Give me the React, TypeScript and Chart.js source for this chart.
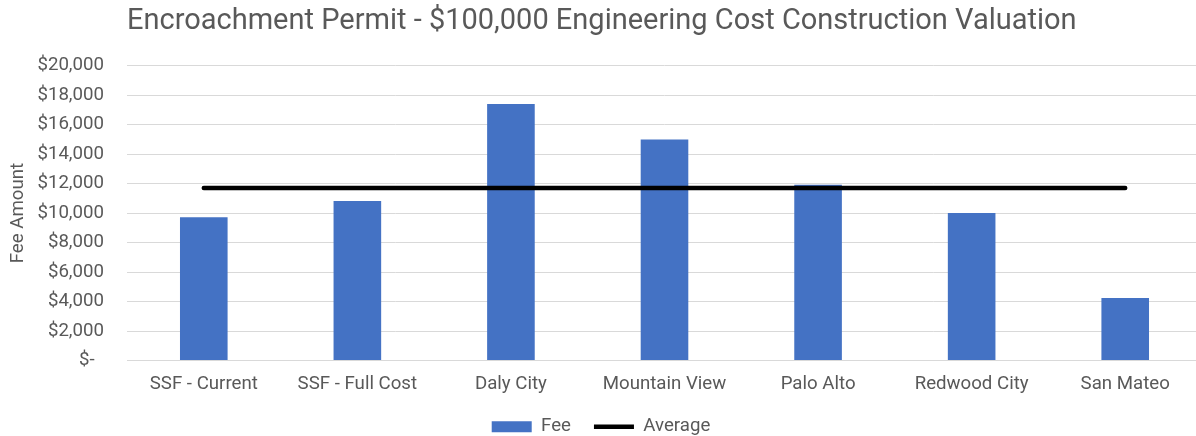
import React, { useEffect, useRef } from "react";
import { Chart, registerables } from "chart.js";

Chart.register(...registerables);

const categories = [
  "SSF - Current",
  "SSF - Full Cost",
  "Daly City",
  "Mountain View",
  "Palo Alto",
  "Redwood City",
  "San Mateo",
];
const feeValues = [9720, 10830, 17400, 15000, 11920, 10000, 4240];
const averageValues = [11700, 11700, 11700, 11700, 11700, 11700, 11700];
const yTickMin = 0;
const yTickMax = 20000;
const yTickStep = 2000;
const titleText = "Encroachment Permit - $100,000 Engineering Cost Construction Valuation";
const yAxisTitle = "Fee Amount";

const TEXT = "#595959";
const FONT = "Roboto";

export default function App() {
  const ref = useRef<HTMLCanvasElement | null>(null);
  useEffect(() => {
    if (!ref.current) return;
    const chart = new Chart(ref.current, {
      type: "bar",
      data: {
        labels: categories,
        datasets: [
          {
            type: "bar",
            label: "Fee",
            data: feeValues,
            backgroundColor: "#4472C4",
            borderWidth: 0,
            barPercentage: 0.31,
            categoryPercentage: 1,
            order: 1,
            pointStyle: "rect",
          } as any,
          {
            type: "line",
            label: "Average",
            data: averageValues,
            borderColor: "#000000",
            backgroundColor: "#000000",
            borderWidth: 4.5,
            borderCapStyle: "round",
            pointRadius: 0,
            pointHoverRadius: 0,
            pointStyle: "line",
            order: 0,
          } as any,
        ],
      },
      options: {
        responsive: false,
        animation: false,
        devicePixelRatio: 1,
        layout: { padding: { top: 0, right: 8, bottom: 3, left: 0 } },
        plugins: {
          tooltip: { enabled: false },
          title: {
            display: true,
            text: titleText,
            align: "start",
            fullSize: false,
            color: TEXT,
            font: { family: FONT, size: 29, weight: "normal" },
            padding: { top: 4.4, bottom: 26.5 },
          },
          legend: {
            display: true,
            position: "bottom",
            labels: {
              color: TEXT,
              font: { family: FONT, size: 18.67 },
              usePointStyle: true,
              pointStyleWidth: 40,
              boxHeight: 11,
              padding: 23,
              sort: (a: any, b: any) => a.datasetIndex - b.datasetIndex,
            },
          },
        },
        scales: {
          x: {
            afterFit: (scale: any) => {
              scale.height = 33.8;
            },
            grid: { display: false, drawTicks: false },
            border: { display: true, color: "#d9d9d9", width: 1 },
            ticks: {
              color: TEXT,
              font: { family: FONT, size: 18.67 },
              padding: 12.8,
              maxRotation: 0,
              autoSkip: false,
            },
          },
          y: {
            min: yTickMin,
            max: yTickMax,
            afterFit: (scale: any) => {
              scale.width = 127;
            },
            grid: { color: "#d9d9d9", lineWidth: 1, drawTicks: false },
            border: { display: false },
            ticks: {
              stepSize: yTickStep,
              color: TEXT,
              font: { family: FONT, size: 18.67 },
              padding: 23,
              callback: (v: any) =>
                Number(v) === 0 ? "$-  " : "$" + Number(v).toLocaleString("en-US"),
            },
            title: {
              display: true,
              text: yAxisTitle,
              color: TEXT,
              font: { family: FONT, size: 18.67 },
              padding: { top: 7, bottom: 0 },
            },
          },
        },
      },
    });
    return () => chart.destroy();
  }, []);
  return (
    <div
      style={{
        position: "fixed",
        left: 0,
        top: 0,
        width: 1196,
        height: 436,
        overflow: "hidden",
        background: "#ffffff",
      }}
    >
      <canvas
        ref={ref}
        width={1210}
        height={449}
        style={{ position: "absolute", left: 0, top: 0, width: 1210, height: 449 }}
      />
    </div>
  );
}
